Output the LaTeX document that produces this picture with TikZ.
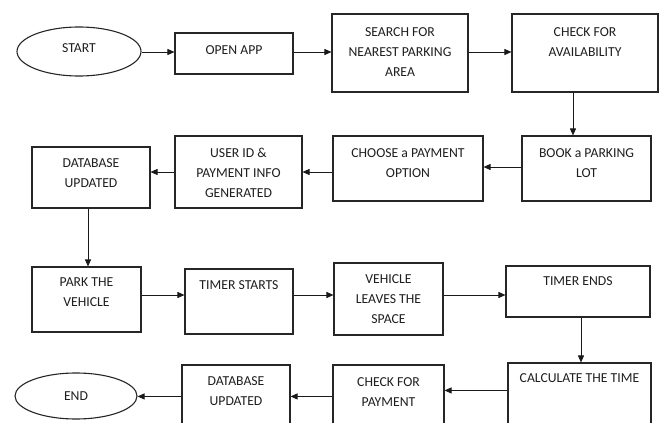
\documentclass[tikz,border=0pt]{standalone}
\usepackage{fontspec}
\setmainfont{Carlito}
\usetikzlibrary{arrows.meta,shapes.geometric}
\begin{document}
\begin{tikzpicture}[x=1pt,y=1pt,
  box/.style={draw=black!85, line width=1.1pt, rectangle, inner sep=0pt},
  oval/.style={draw=black!85, line width=1.1pt, ellipse, inner sep=0pt},
  txt/.style={text=black!88, font=\fontsize{13.7}{20}\selectfont, align=center, inner sep=0pt, anchor=north},
  arr/.style={draw=black!90, line width=0.9pt, -{Triangle[length=7pt,width=6pt]}}]
\useasboundingbox (0,0) rectangle (662,-423);
\clip (0,0) rectangle (662,-423);
\fill[white] (0,0) rectangle (662,-423);
% shapes
\node[oval, minimum width=124pt, minimum height=49pt] (start) at (79,-51.5) {};
\node[box, minimum width=118pt, minimum height=41pt] (open) at (234,-53.5) {};
\node[box, minimum width=136pt, minimum height=78pt] (search) at (400,-53) {};
\node[box, minimum width=146pt, minimum height=78pt] (check) at (585,-53) {};
\node[box, minimum width=129pt, minimum height=65pt] (book) at (586.5,-168.5) {};
\node[box, minimum width=150pt, minimum height=65pt] (choose) at (408,-168.5) {};
\node[box, minimum width=127pt, minimum height=72pt] (user) at (238.5,-172) {};
\node[box, minimum width=118pt, minimum height=61pt] (db1) at (91,-177.5) {};
\node[box, minimum width=109pt, minimum height=65pt] (park) at (86.5,-299.5) {};
\node[box, minimum width=108pt, minimum height=65pt] (timer) at (239,-301.5) {};
\node[box, minimum width=109pt, minimum height=72pt] (vehicle) at (388.5,-299) {};
\node[box, minimum width=144pt, minimum height=51pt] (tends) at (578,-291.5) {};
\node[box, minimum width=143pt, minimum height=80pt] (calc) at (579.5,-403) {};
\node[box, minimum width=111pt, minimum height=80pt] (checkpay) at (388.5,-405) {};
\node[box, minimum width=108pt, minimum height=80pt] (db2) at (236,-405) {};
\node[oval, minimum width=122pt, minimum height=46pt] (end) at (76,-396) {};
% texts
\node[txt, anchor=center] (tstart) at ([yshift=3pt]start.center) {START};
\node[txt] (topen) at ([yshift=-12.5pt]open.north) {OPEN APP};
\node[txt] (tsearch) at ([yshift=-13.5pt]search.north) {SEARCH FOR\\NEAREST PARKING\\AREA};
\node[txt] (tcheck) at ([yshift=-13.5pt]check.north) {CHECK FOR\\AVAILABILITY};
\node[txt] (tbook) at ([yshift=-12.5pt]book.north) {BOOK a PARKING\\LOT};
\node[txt] (tchoose) at ([yshift=-12.5pt]choose.north) {CHOOSE a PAYMENT\\OPTION};
\node[txt] (tuser) at ([yshift=-12.5pt]user.north) {USER ID \&\\PAYMENT INFO\\GENERATED};
\node[txt] (tdb1) at ([yshift=-11.5pt]db1.north) {DATABASE\\UPDATED};
\node[txt] (tpark) at ([yshift=-11.5pt]park.north) {PARK THE\\VEHICLE};
\node[txt] (ttimer) at ([yshift=-11.5pt]timer.north) {TIMER STARTS};
\node[txt] (tvehicle) at ([yshift=-11.5pt]vehicle.north) {VEHICLE\\LEAVES THE\\SPACE};
\node[txt] (ttends) at ([yshift=-10.5pt]tends.north) {TIMER ENDS};
\node[txt] (tcalc) at ([yshift=-10.5pt]calc.north) {CALCULATE THE TIME};
\node[txt] (tcheckpay) at ([yshift=-12.5pt]checkpay.north) {CHECK FOR\\PAYMENT};
\node[txt] (tdb2) at ([yshift=-11.5pt]db2.north) {DATABASE\\UPDATED};
\node[txt, anchor=center] (tend) at (end.center) {END};
% connectors
\draw[arr] ([yshift=-0.5pt]start.east) -- ([yshift=-0.5pt]start.east -| open.west);
\draw[arr] ([yshift=1.5pt]open.east) -- ([yshift=1.5pt]open.east -| search.west);
\draw[arr] ([yshift=1pt]search.east) -- ([yshift=1pt]search.east -| check.west);
\draw[arr] ([xshift=-12pt]check.south) -- ([xshift=-12pt]check.south |- book.north);
\draw[arr] ([yshift=1.5pt]book.west) -- ([yshift=1.5pt]book.west -| choose.east);
\draw[arr] ([yshift=-3.5pt]choose.west) -- ([yshift=-3.5pt]choose.west -| user.east);
\draw[arr] (user.west) -- (user.west -| db1.east);
\draw[arr] ([xshift=-3pt]db1.south) -- ([xshift=-3pt]db1.south |- park.north);
\draw[arr] ([yshift=4.5pt]park.east) -- ([yshift=4.5pt]park.east -| timer.west);
\draw[arr] ([yshift=6.5pt]timer.east) -- ([yshift=6.5pt]timer.east -| vehicle.west);
\draw[arr] ([yshift=4pt]vehicle.east) -- ([yshift=4pt]vehicle.east -| tends.west);
\draw[arr] ([xshift=3pt]tends.south) -- ([xshift=3pt]tends.south |- calc.north);
\draw[arr] ([yshift=-28pt]calc.north west) -- ([yshift=-28pt]calc.north west -| checkpay.east);
\draw[arr] ([yshift=-32pt]checkpay.north west) -- ([yshift=-32pt]checkpay.north west -| db2.east);
\draw[arr] ([yshift=-32pt]db2.north west) -- ([yshift=-32pt]db2.north west -| end.east);
\end{tikzpicture}
\end{document}
